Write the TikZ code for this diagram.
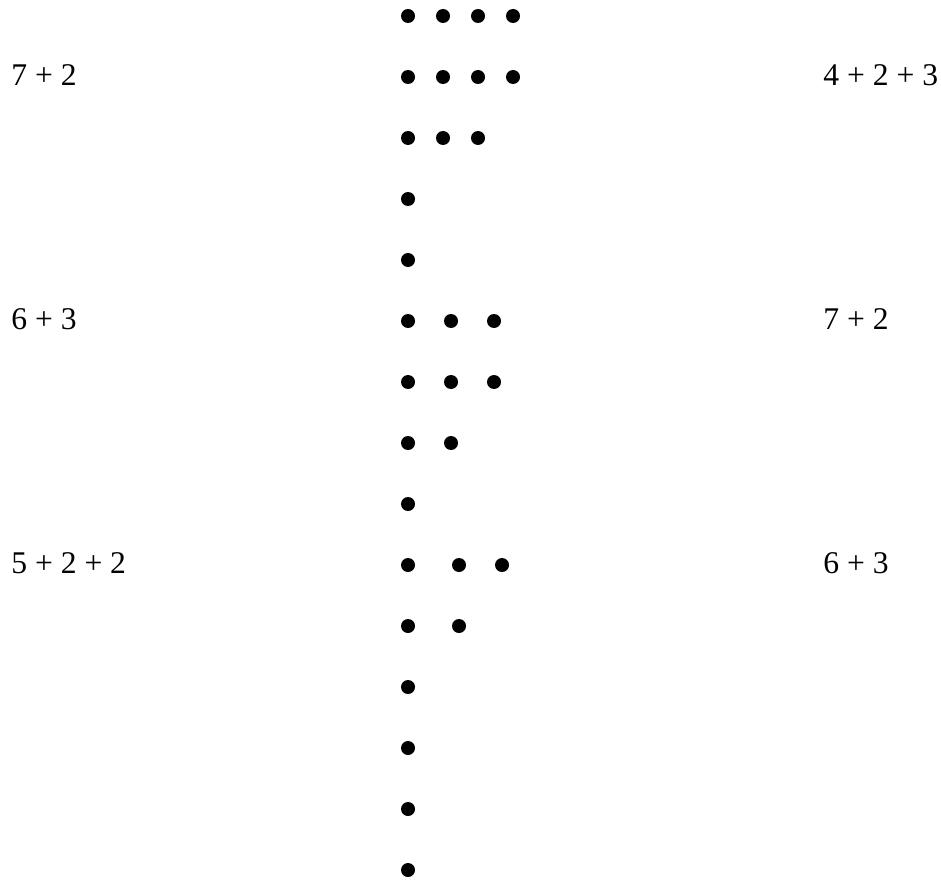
\documentclass[tikz,border=0pt]{standalone}
\usepackage{fontspec}
\setmainfont{Liberation Serif}
\begin{document}
\begin{tikzpicture}[x=0.5pt,y=-0.5pt,
  dot/.style={circle,fill=black,inner sep=0pt,minimum size=7pt},
  lbl/.style={anchor=base west,inner sep=0pt,font=\fontsize{15.8}{19}\selectfont}]
\useasboundingbox (0,0) rectangle (941,882);
% rows of dots
\foreach \r/\y in {1/16,2/77,3/138}{
  \foreach \c/\x in {1/408,2/443,3/478,4/513}{
    \ifnum\r=3 \ifnum\c=4 \else \node[dot] (d\r-\c) at (\x,\y) {}; \fi
    \else \node[dot] (d\r-\c) at (\x,\y) {}; \fi
  }
}
\node[dot] (d4-1) at (408,199) {};
\node[dot] (d5-1) at (408,260) {};
\foreach \r/\y in {6/321,7/382}{
  \foreach \c/\x in {1/408,2/451,3/494}{
    \node[dot] (d\r-\c) at (\x,\y) {};
  }
}
\node[dot] (d8-1) at (408,443) {};
\node[dot] (d8-2) at (451,443) {};
\node[dot] (d9-1) at (408,504) {};
\node[dot] (d10-1) at (408,565) {};
\node[dot] (d10-2) at (459,565) {};
\node[dot] (d10-3) at (502,565) {};
\node[dot] (d11-1) at (408,626) {};
\node[dot] (d11-2) at (459,626) {};
\foreach \r/\y in {12/687,13/748,14/809,15/870}{
  \node[dot] (d\r-1) at (408,\y) {};
}
% labels
\node[lbl] (l1) at (11,86) {7 + 2};
\node[lbl] (r1) at (823,86) {4 + 2 + 3};
\node[lbl] (l2) at (11,329) {6 + 3};
\node[lbl] (r2) at (823,329) {7 + 2};
\node[lbl] (l3) at (11,573) {5 + 2 + 2};
\node[lbl] (r3) at (823,573) {6 + 3};
\end{tikzpicture}
\end{document}
